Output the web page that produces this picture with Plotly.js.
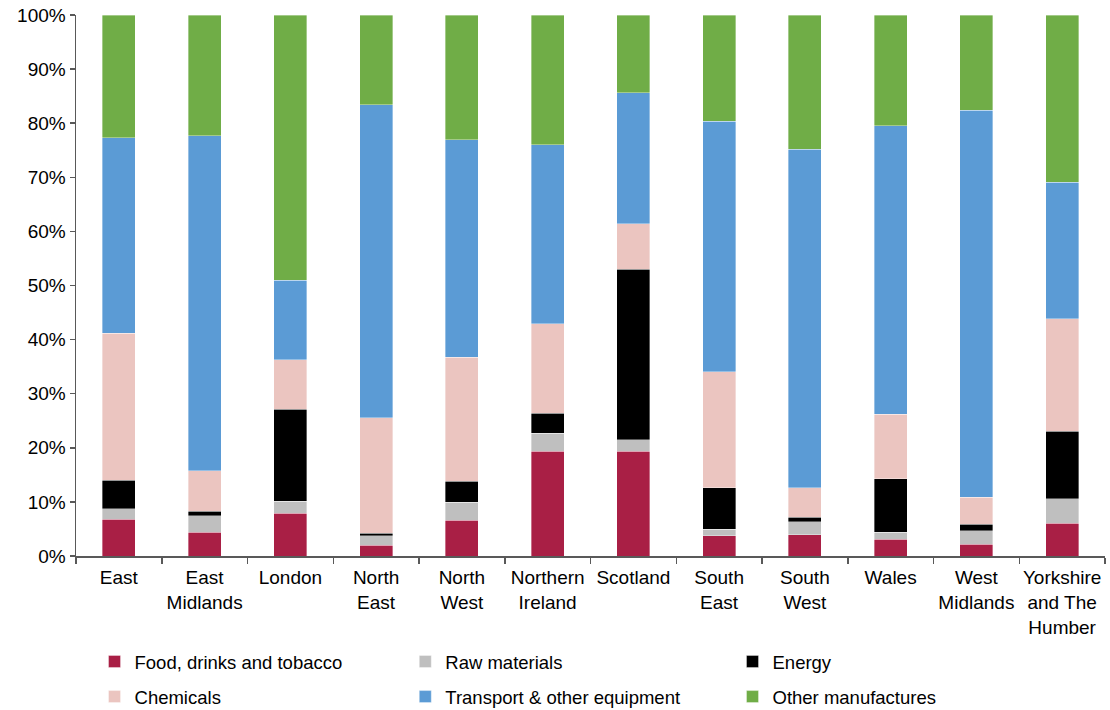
<!DOCTYPE html>
<html>
<head>
<meta charset="utf-8">
<script src="https://cdn.plot.ly/plotly-3.0.1.min.js"></script>
<style>html,body{margin:0;padding:0;background:#fff;}#chart{width:1110px;height:710px;}</style>
</head>
<body>
<div id="chart"></div>
<script>
const categories = ["East", "East<br>Midlands", "London", "North<br>East", "North<br>West", "Northern<br>Ireland", "Scotland", "South<br>East", "South<br>West", "Wales", "West<br>Midlands", "Yorkshire<br>and The<br>Humber"];
const food      = [6.8, 4.4, 7.9, 2.0, 6.6, 19.4, 19.4, 3.7, 3.9, 3.1, 2.2, 6.1];
const raw       = [1.9, 3.0, 2.2, 1.7, 3.3, 3.3, 2.1, 1.2, 2.4, 1.3, 2.5, 4.5];
const energy    = [5.3, 0.9, 17.0, 0.5, 3.9, 3.7, 31.5, 7.7, 0.9, 9.9, 1.2, 12.5];
const chemicals = [27.2, 7.5, 9.2, 21.4, 22.9, 16.5, 8.4, 21.5, 5.4, 11.9, 5.0, 20.8];
const transport = [36.1, 61.9, 14.7, 57.8, 40.2, 33.1, 24.2, 46.3, 62.6, 53.3, 71.5, 25.2];
const other     = [22.7, 22.3, 49.0, 16.6, 23.1, 24.0, 14.4, 19.6, 24.8, 20.5, 17.6, 30.9];

const seriesNames = ["Food, drinks and tobacco", "Raw materials", "Energy", "Chemicals", "Transport & other equipment", "Other manufactures"];
const seriesValues = [food, raw, energy, chemicals, transport, other];
const seriesColors = ["#A91F45", "#BFBFBF", "#000000", "#EBC5C0", "#5B9BD5", "#70AD47"];
const legendIds = ["legend", "legend2", "legend3", "legend", "legend2", "legend3"];

const traces = seriesNames.map((n, i) => ({
  type: "bar",
  name: n,
  x: categories,
  y: seriesValues[i],
  marker: {color: seriesColors[i], line: {color: "rgba(255,255,255,0.6)", width: 0.6}},
  legend: legendIds[i],
  legendgroup: "g" + i,
  hoverinfo: "x+y+name"
}));

const font = {family: "Liberation Sans, Arial, sans-serif", size: 19, color: "#000"};
const legendFont = {family: "Liberation Sans, Arial, sans-serif", size: 18.5, color: "#000"};
const legendBase = {
  orientation: "v", yref: "container", yanchor: "top", y: 1 - 643 / 710, xanchor: "left",
  font: legendFont, bgcolor: "rgba(0,0,0,0)", tracegroupgap: 8, traceorder: "grouped",
  itemwidth: 30
};

const layout = {
  width: 1110, height: 710,
  margin: {l: 76, r: 5, t: 15, b: 154, autoexpand: false},
  paper_bgcolor: "#fff", plot_bgcolor: "#fff",
  font: font,
  barmode: "stack",
  bargap: 0.615,
  showlegend: true,
  legend: Object.assign({}, legendBase, {x: 0.018}),
  legend2: Object.assign({}, legendBase, {x: 0.32}),
  legend3: Object.assign({}, legendBase, {x: 0.638}),
  xaxis: {
    type: "category", automargin: false, tickangle: 0,
    showline: true, linecolor: "#595959", linewidth: 1.5,
    ticks: "outside", tickson: "boundaries", ticklen: 6, tickcolor: "#595959", tickwidth: 1.5,
    ticklabelstandoff: 4,
    tickfont: font, showgrid: false, zeroline: false, fixedrange: true
  },
  yaxis: {
    range: [0, 100], dtick: 10, ticksuffix: "%", automargin: false,
    showline: true, linecolor: "#595959", linewidth: 1.5,
    ticks: "outside", ticklen: 5, tickcolor: "#595959", tickwidth: 1.5,
    tickfont: font, showgrid: false, zeroline: false, fixedrange: true
  }
};

Plotly.newPlot("chart", traces, layout, {displayModeBar: false, staticPlot: true});
</script>
</body>
</html>
